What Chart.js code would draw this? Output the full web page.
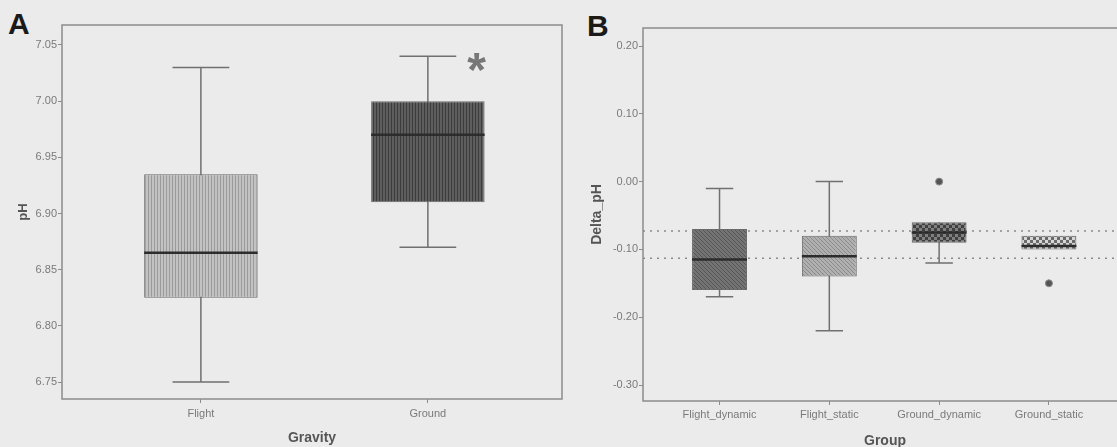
<!DOCTYPE html>
<html>
<head>
<meta charset="utf-8">
<script src="https://cdn.jsdelivr.net/npm/chart.js@4.4.1/dist/chart.umd.min.js"></script>
<style>
    body { margin: 0; background: #ebebeb; width: 1117px; height: 447px; overflow: hidden; position: relative; font-family: "Liberation Sans", Arial, sans-serif; }
    .painel { position: absolute; top: 0; }
    .letra { position: absolute; font-weight: bold; font-size: 30px; line-height: 30px; color: #1a1a1a; }
</style>
</head>
<body>
<div class="letra" style="left:8px; top:9px;">A</div>
<div class="letra" style="left:587px; top:11px;">B</div>
<div class="painel" style="left:16px; width:570px; height:447px;"><canvas id="chartA"></canvas></div>
<div class="painel" style="left:589px; width:560px; height:450px;"><canvas id="chartB"></canvas></div>
<script>
// painel A - pH por gravidade
const gravityLabels = ["Flight", "Ground"];
const phMin = [6.75, 6.87];
const phQ1 = [6.825, 6.91];
const phMedian = [6.865, 6.97];
const phQ3 = [6.935, 7.00];
const phMax = [7.03, 7.04];
const phTicks = [6.75, 6.80, 6.85, 6.90, 6.95, 7.00, 7.05];

// painel B - Delta_pH por grupo
const groupLabels = ["Flight_dynamic", "Flight_static", "Ground_dynamic", "Ground_static"];
const deltaMin = [-0.17, -0.22, -0.12, -0.10];
const deltaQ1 = [-0.16, -0.14, -0.09, -0.10];
const deltaMedian = [-0.115, -0.11, -0.075, -0.095];
const deltaQ3 = [-0.07, -0.08, -0.06, -0.08];
const deltaMax = [-0.01, 0.00, -0.06, -0.08];
const outlierGroup = [3, 4];
const outlierValue = [0.00, -0.15];
const refLines = [-0.073, -0.113];
const deltaTicks = [-0.30, -0.20, -0.10, 0.00, 0.10, 0.20];

const fonte = "'Liberation Sans', Arial, sans-serif";

function padraoListras(fundo, listra, passo) {
    const c = document.createElement("canvas");
    c.width = passo; c.height = 4;
    const g = c.getContext("2d");
    g.fillStyle = fundo; g.fillRect(0, 0, passo, 4);
    g.fillStyle = listra; g.fillRect(0, 0, 1, 4);
    return g.createPattern(c, "repeat");
}

function padraoDiagonal(fundo, linha) {
    const c = document.createElement("canvas");
    c.width = 4; c.height = 4;
    const g = c.getContext("2d");
    g.fillStyle = fundo; g.fillRect(0, 0, 4, 4);
    g.fillStyle = linha;
    for (let i = 0; i < 4; i++) g.fillRect(i, i, 1, 1);
    return g.createPattern(c, "repeat");
}

function padraoXadrez(fundo, ponto) {
    const c = document.createElement("canvas");
    c.width = 6; c.height = 6;
    const g = c.getContext("2d");
    g.fillStyle = fundo; g.fillRect(0, 0, 6, 6);
    g.fillStyle = ponto;
    g.fillRect(0, 0, 3, 3);
    g.fillRect(3, 3, 3, 3);
    return g.createPattern(c, "repeat");
}

const moldura = {
    id: "moldura",
    afterDraw(chart) {
        const a = chart.chartArea, ctx = chart.ctx;
        ctx.save();
        ctx.strokeStyle = "#8c8c8c";
        ctx.lineWidth = 1.5;
        ctx.strokeRect(a.left, a.top, a.right - a.left, a.bottom - a.top);
        ctx.restore();
    }
};

function montarBoxplot(id, c) {
    const whiskers = [], medians = [], boxes = [];
    c.labels.forEach((_, i) => {
        const x = i + 1;
        boxes.push({ x: x, y: [c.q1[i], c.q3[i]] });
        if (c.min[i] < c.q1[i] || c.max[i] > c.q3[i]) {
            whiskers.push({ x: x, y: c.min[i] }, { x: x, y: c.max[i] }, { x: x, y: null });
        }
        if (c.min[i] < c.q1[i]) {
            whiskers.push({ x: x - 0.125, y: c.min[i] }, { x: x + 0.125, y: c.min[i] }, { x: x, y: null });
        }
        if (c.max[i] > c.q3[i]) {
            whiskers.push({ x: x - 0.125, y: c.max[i] }, { x: x + 0.125, y: c.max[i] }, { x: x, y: null });
        }
        medians.push({ x: x - 0.25, y: c.median[i] }, { x: x + 0.25, y: c.median[i] }, { x: x, y: null });
    });

    const datasets = [
        {
            type: "line", data: whiskers, borderColor: "#707070", borderWidth: 1.5,
            pointRadius: 0, spanGaps: false, order: 3
        },
        {
            type: "bar", data: boxes, backgroundColor: c.fills, borderColor: "#6a6a6a",
            borderWidth: 1, borderSkipped: false, categoryPercentage: 1, barPercentage: 0.5, order: 2
        },
        {
            type: "line", data: medians, borderColor: "#2c2c2c", borderWidth: 2.5,
            pointRadius: 0, spanGaps: false, order: 1
        }
    ];

    if (c.outliers) {
        datasets.push({
            type: "line", data: c.outliers, showLine: false, pointRadius: 3.5,
            pointBackgroundColor: "#555", pointBorderColor: "#8a8a8a", pointBorderWidth: 1, order: 0
        });
    }
    if (c.refs) {
        const refData = [];
        c.refs.forEach(r => refData.push({ x: c.xMin, y: r }, { x: c.xMax, y: r }, { x: c.xMin, y: null }));
        datasets.push({
            type: "line", data: refData, borderColor: "#8a8a8a", borderWidth: 1.5,
            borderDash: [2, 5], pointRadius: 0, spanGaps: false, order: 4
        });
    }

    return new Chart(document.getElementById(id).getContext("2d"), {
        type: "bar",
        data: { datasets: datasets },
        options: {
            responsive: true,
            maintainAspectRatio: false,
            animation: false,
            events: [],
            layout: { padding: { top: c.padTop, right: c.padRight, left: 0, bottom: 0 } },
            plugins: { legend: { display: false }, tooltip: { enabled: false } },
            scales: {
                x: {
                    type: "linear", min: c.xMin, max: c.xMax, offset: false,
                    afterBuildTicks: s => { s.ticks = c.labels.map((_, i) => ({ value: i + 1 })); },
                    afterFit: s => { s.height = c.xHeight; },
                    ticks: {
                        autoSkip: false, maxRotation: 0, padding: c.xTickPad, color: "#7a7a7a",
                        font: { family: fonte, size: 11 },
                        callback: v => c.labels[v - 1]
                    },
                    grid: { display: true, drawOnChartArea: false, drawTicks: true, tickLength: 4, color: "#8c8c8c", offset: false },
                    border: { display: false },
                    title: {
                        display: true, text: c.xTitle, color: "#555",
                        font: { family: fonte, size: 14, weight: "bold" }, padding: 0
                    }
                },
                y: {
                    type: "linear", min: c.yMin, max: c.yMax,
                    afterBuildTicks: s => { s.ticks = c.yTicks.map(v => ({ value: v })); },
                    afterFit: s => { s.width = c.yWidth; },
                    ticks: {
                        padding: 1, color: "#7a7a7a",
                        font: { family: fonte, size: 11 },
                        callback: v => v.toFixed(2)
                    },
                    grid: { display: true, drawOnChartArea: false, drawTicks: true, tickLength: 4, color: "#8c8c8c" },
                    border: { display: false },
                    title: {
                        display: true, text: c.yTitle, color: "#555",
                        font: { family: fonte, size: c.yTitleSize, weight: "bold" }, padding: 0
                    }
                }
            }
        },
        plugins: [moldura].concat(c.extraPlugins || [])
    });
}

// asterisco de significancia sobre o grupo Ground
const asterisco = {
    id: "asterisco",
    afterDraw(chart) {
        const ctx = chart.ctx;
        const x = chart.scales.x.getPixelForValue(2.215);
        const y = chart.scales.y.getPixelForValue(phMax[1]);
        ctx.save();
        ctx.fillStyle = "#777";
        ctx.font = "bold 48px " + fonte;
        ctx.textAlign = "center";
        ctx.textBaseline = "alphabetic";
        ctx.fillText("*", x, y + 30);
        ctx.restore();
    }
};

montarBoxplot("chartA", {
    labels: gravityLabels, min: phMin, q1: phQ1, median: phMedian, q3: phQ3, max: phMax,
    fills: [padraoListras("#c2c2c2", "#9a9a9a", 3), padraoListras("#5e5e5e", "#3c3c3c", 3)],
    yMin: 6.7349, yMax: 7.0678, yTicks: phTicks,
    xMin: 0.388, xMax: 2.591,
    xTitle: "Gravity", yTitle: "pH", yTitleSize: 13,
    padTop: 25, padRight: 24, xHeight: 48, yWidth: 46, xTickPad: 4,
    extraPlugins: [asterisco]
});

montarBoxplot("chartB", {
    labels: groupLabels, min: deltaMin, q1: deltaQ1, median: deltaMedian, q3: deltaQ3, max: deltaMax,
    fills: [
        padraoDiagonal("#747474", "#555555"),
        padraoDiagonal("#b0b0b0", "#8a8a8a"),
        padraoXadrez("#404040", "#808080"),
        padraoXadrez("#6a6a6a", "#d6d6d6")
    ],
    outliers: outlierGroup.map((g, i) => ({ x: g, y: outlierValue[i] })),
    refs: refLines,
    yMin: -0.3236, yMax: 0.2266, yTicks: deltaTicks,
    xMin: 0.303, xMax: 4.711,
    xTitle: "Group", yTitle: "Delta_pH", yTitleSize: 14,
    padTop: 28, padRight: 22, xHeight: 49, yWidth: 54, xTickPad: 3
});
</script>
</body>
</html>
